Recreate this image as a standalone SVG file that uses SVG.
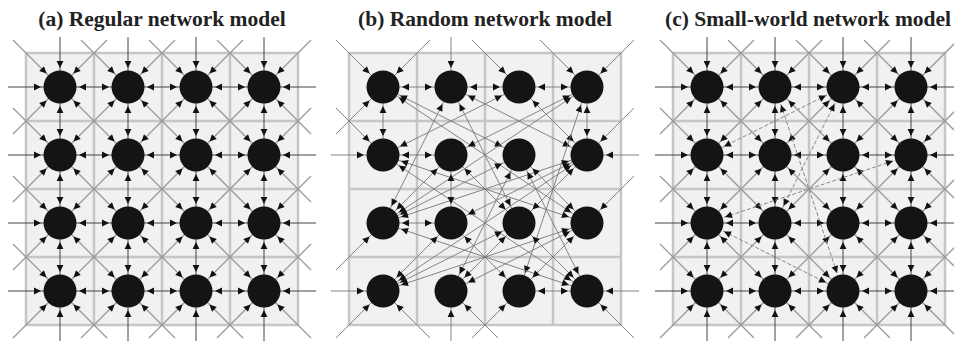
<svg xmlns="http://www.w3.org/2000/svg" xmlns:xlink="http://www.w3.org/1999/xlink" width="954" height="341" viewBox="0 0 954 341">
<style>
.title{font-family:"Liberation Serif","Times New Roman",serif;font-weight:bold;font-size:21.5px;fill:#222;text-anchor:middle}
.bg{fill:#f1f1f1;stroke:#c6c6c6;stroke-width:2.5}
.grid{stroke:#c6c6c6;stroke-width:2.5;fill:none}
.hv{stroke:#444;stroke-width:1}
.dg{stroke:#999;stroke-width:1.3}
.rn{stroke:#777;stroke-width:0.9}
.rw{stroke:#888;stroke-width:1;stroke-dasharray:4 2}
.b{marker-start:url(#ah);marker-end:url(#ah)}
.s{marker-end:url(#ah)}
.node{fill:#141414}
</style>
<defs>
<marker id="ah" markerUnits="userSpaceOnUse" markerWidth="30" markerHeight="10" refX="28" refY="5" orient="auto-start-reverse">
<path d="M9,5 L2,1.6 L2,8.4 Z" fill="#111"/>
</marker>
<g id="lattice">
<g class="dg">
<line class="b" x1="60" y1="87" x2="128" y2="155"/><line class="b" x1="128" y1="87" x2="196" y2="155"/><line class="b" x1="196" y1="87" x2="264" y2="155"/>
<line class="b" x1="60" y1="155" x2="128" y2="223"/><line class="b" x1="128" y1="155" x2="196" y2="223"/><line class="b" x1="196" y1="155" x2="264" y2="223"/>
<line class="b" x1="60" y1="223" x2="128" y2="291"/><line class="b" x1="128" y1="223" x2="196" y2="291"/><line class="b" x1="196" y1="223" x2="264" y2="291"/>
<line class="b" x1="128" y1="87" x2="60" y2="155"/><line class="b" x1="196" y1="87" x2="128" y2="155"/><line class="b" x1="264" y1="87" x2="196" y2="155"/>
<line class="b" x1="128" y1="155" x2="60" y2="223"/><line class="b" x1="196" y1="155" x2="128" y2="223"/><line class="b" x1="264" y1="155" x2="196" y2="223"/>
<line class="b" x1="128" y1="223" x2="60" y2="291"/><line class="b" x1="196" y1="223" x2="128" y2="291"/><line class="b" x1="264" y1="223" x2="196" y2="291"/>
<line class="s" x1="13" y1="40" x2="60" y2="87"/><line class="s" x1="107" y1="40" x2="60" y2="87"/><line class="s" x1="13" y1="134" x2="60" y2="87"/>
<line class="s" x1="81" y1="40" x2="128" y2="87"/><line class="s" x1="175" y1="40" x2="128" y2="87"/>
<line class="s" x1="149" y1="40" x2="196" y2="87"/><line class="s" x1="243" y1="40" x2="196" y2="87"/>
<line class="s" x1="217" y1="40" x2="264" y2="87"/><line class="s" x1="311" y1="40" x2="264" y2="87"/><line class="s" x1="311" y1="134" x2="264" y2="87"/>
<line class="s" x1="13" y1="108" x2="60" y2="155"/><line class="s" x1="13" y1="202" x2="60" y2="155"/>
<line class="s" x1="311" y1="108" x2="264" y2="155"/><line class="s" x1="311" y1="202" x2="264" y2="155"/>
<line class="s" x1="13" y1="176" x2="60" y2="223"/><line class="s" x1="13" y1="270" x2="60" y2="223"/>
<line class="s" x1="311" y1="176" x2="264" y2="223"/><line class="s" x1="311" y1="270" x2="264" y2="223"/>
<line class="s" x1="13" y1="244" x2="60" y2="291"/><line class="s" x1="13" y1="338" x2="60" y2="291"/><line class="s" x1="107" y1="338" x2="60" y2="291"/>
<line class="s" x1="81" y1="338" x2="128" y2="291"/><line class="s" x1="175" y1="338" x2="128" y2="291"/>
<line class="s" x1="149" y1="338" x2="196" y2="291"/><line class="s" x1="243" y1="338" x2="196" y2="291"/>
<line class="s" x1="311" y1="244" x2="264" y2="291"/><line class="s" x1="311" y1="338" x2="264" y2="291"/><line class="s" x1="217" y1="338" x2="264" y2="291"/>
</g>
<g class="hv">
<line class="s" x1="8" y1="87" x2="60" y2="87"/><line class="b" x1="60" y1="87" x2="128" y2="87"/><line class="b" x1="128" y1="87" x2="196" y2="87"/><line class="b" x1="196" y1="87" x2="264" y2="87"/><line class="s" x1="316" y1="87" x2="264" y2="87"/>
<line class="s" x1="8" y1="155" x2="60" y2="155"/><line class="b" x1="60" y1="155" x2="128" y2="155"/><line class="b" x1="128" y1="155" x2="196" y2="155"/><line class="b" x1="196" y1="155" x2="264" y2="155"/><line class="s" x1="316" y1="155" x2="264" y2="155"/>
<line class="s" x1="8" y1="223" x2="60" y2="223"/><line class="b" x1="60" y1="223" x2="128" y2="223"/><line class="b" x1="128" y1="223" x2="196" y2="223"/><line class="b" x1="196" y1="223" x2="264" y2="223"/><line class="s" x1="316" y1="223" x2="264" y2="223"/>
<line class="s" x1="8" y1="291" x2="60" y2="291"/><line class="b" x1="60" y1="291" x2="128" y2="291"/><line class="b" x1="128" y1="291" x2="196" y2="291"/><line class="b" x1="196" y1="291" x2="264" y2="291"/><line class="s" x1="316" y1="291" x2="264" y2="291"/>
<line class="s" x1="60" y1="37" x2="60" y2="87"/><line class="b" x1="60" y1="87" x2="60" y2="155"/><line class="b" x1="60" y1="155" x2="60" y2="223"/><line class="b" x1="60" y1="223" x2="60" y2="291"/><line class="s" x1="60" y1="343" x2="60" y2="291"/>
<line class="s" x1="128" y1="37" x2="128" y2="87"/><line class="b" x1="128" y1="87" x2="128" y2="155"/><line class="b" x1="128" y1="155" x2="128" y2="223"/><line class="b" x1="128" y1="223" x2="128" y2="291"/><line class="s" x1="128" y1="343" x2="128" y2="291"/>
<line class="s" x1="196" y1="37" x2="196" y2="87"/><line class="b" x1="196" y1="87" x2="196" y2="155"/><line class="b" x1="196" y1="155" x2="196" y2="223"/><line class="b" x1="196" y1="223" x2="196" y2="291"/><line class="s" x1="196" y1="343" x2="196" y2="291"/>
<line class="s" x1="264" y1="37" x2="264" y2="87"/><line class="b" x1="264" y1="87" x2="264" y2="155"/><line class="b" x1="264" y1="155" x2="264" y2="223"/><line class="b" x1="264" y1="223" x2="264" y2="291"/><line class="s" x1="264" y1="343" x2="264" y2="291"/>
</g>
</g>
<path id="gridlines" class="grid" d="M94,53V325M162,53V325M230,53V325M26,121H298M26,189H298M26,257H298"/>
</defs>

<g id="titles">
<text class="title" x="162" y="26">(a) Regular network model</text>
<text class="title" x="485" y="26">(b) Random network model</text>
<text class="title" x="808" y="26">(c) Small-world network model</text>
</g>

<g id="grids">
<rect class="bg" x="26" y="53" width="272" height="272"/>
<use xlink:href="#gridlines"/>
<rect class="bg" x="349" y="53" width="272" height="272"/>
<use xlink:href="#gridlines" transform="translate(323,0)"/>
<rect class="bg" x="673" y="53" width="272" height="272"/>
<use xlink:href="#gridlines" transform="translate(647,0)"/>
</g>

<g id="connectors">
<g id="edges-a"><use xlink:href="#lattice"/></g>
<g id="edges-b" class="rn">
<line class="b" x1="383" y1="87" x2="451" y2="87"/>
<line class="b" x1="451" y1="87" x2="519" y2="87"/>
<line class="b" x1="519" y1="87" x2="587" y2="87"/>
<line class="b" x1="383" y1="87" x2="383" y2="155"/>
<line class="b" x1="383" y1="87" x2="519" y2="155"/>
<line class="b" x1="383" y1="87" x2="587" y2="223"/>
<line class="b" x1="451" y1="87" x2="383" y2="223"/>
<line class="b" x1="451" y1="87" x2="519" y2="223"/>
<line class="b" x1="451" y1="87" x2="587" y2="155"/>
<line class="b" x1="519" y1="87" x2="383" y2="155"/>
<line class="b" x1="519" y1="87" x2="587" y2="155"/>
<line class="b" x1="383" y1="155" x2="587" y2="291"/>
<line class="b" x1="587" y1="87" x2="451" y2="155"/>
<line class="b" x1="587" y1="87" x2="383" y2="223"/>
<line class="b" x1="587" y1="87" x2="587" y2="155"/>
<line class="b" x1="587" y1="87" x2="519" y2="291"/>
<line class="b" x1="383" y1="223" x2="587" y2="155"/>
<line class="b" x1="383" y1="155" x2="451" y2="155"/>
<line class="b" x1="383" y1="155" x2="587" y2="223"/>
<line class="b" x1="451" y1="155" x2="519" y2="223"/>
<line class="b" x1="383" y1="291" x2="587" y2="223"/>
<line class="b" x1="451" y1="155" x2="451" y2="223"/>
<line class="b" x1="451" y1="155" x2="383" y2="223"/>
<line class="b" x1="519" y1="155" x2="383" y2="223"/>
<line class="b" x1="519" y1="155" x2="451" y2="291"/>
<line class="b" x1="519" y1="155" x2="587" y2="291"/>
<line class="b" x1="519" y1="155" x2="587" y2="223"/>
<line class="b" x1="587" y1="155" x2="383" y2="291"/>
<line class="b" x1="587" y1="155" x2="519" y2="223"/>
<line class="b" x1="587" y1="155" x2="451" y2="223"/>
<line class="b" x1="383" y1="223" x2="451" y2="223"/>
<line class="b" x1="383" y1="223" x2="587" y2="291"/>
<line class="b" x1="451" y1="223" x2="519" y2="291"/>
<line class="b" x1="451" y1="223" x2="383" y2="291"/>
<line class="b" x1="519" y1="223" x2="383" y2="291"/>
<line class="b" x1="519" y1="223" x2="451" y2="291"/>
<line class="b" x1="519" y1="223" x2="587" y2="291"/>
<line class="b" x1="587" y1="223" x2="519" y2="291"/>
<line class="b" x1="587" y1="223" x2="451" y2="291"/>
<line class="b" x1="519" y1="291" x2="587" y2="291"/>
<line class="s" x1="336" y1="40" x2="383" y2="87"/>
<line class="s" x1="430" y1="40" x2="383" y2="87"/>
<line class="s" x1="336" y1="134" x2="383" y2="87"/>
<line class="s" x1="451" y1="37" x2="451" y2="87"/>
<line class="s" x1="472" y1="40" x2="519" y2="87"/>
<line class="s" x1="540" y1="40" x2="587" y2="87"/>
<line class="s" x1="634" y1="40" x2="587" y2="87"/>
<line class="s" x1="336" y1="108" x2="383" y2="155"/>
<line class="s" x1="331" y1="155" x2="383" y2="155"/>
<line class="s" x1="634" y1="108" x2="587" y2="155"/>
<line class="s" x1="639" y1="155" x2="587" y2="155"/>
<line class="s" x1="336" y1="270" x2="383" y2="223"/>
<line class="s" x1="634" y1="176" x2="587" y2="223"/>
<line class="s" x1="331" y1="291" x2="383" y2="291"/>
<line class="s" x1="336" y1="338" x2="383" y2="291"/>
<line class="s" x1="430" y1="338" x2="383" y2="291"/>
<line class="s" x1="451" y1="343" x2="451" y2="291"/>
<line class="s" x1="498" y1="338" x2="451" y2="291"/>
<line class="s" x1="472" y1="338" x2="519" y2="291"/>
<line class="s" x1="639" y1="291" x2="587" y2="291"/>
<line class="s" x1="634" y1="338" x2="587" y2="291"/>
</g>
<g id="edges-c">
<use xlink:href="#lattice" transform="translate(647,0)"/>
<g class="rw">
<line class="b" x1="843" y1="87" x2="707" y2="155"/>
<line class="b" x1="843" y1="87" x2="775" y2="223"/>
<line class="b" x1="775" y1="87" x2="843" y2="291"/>
<line class="b" x1="707" y1="223" x2="911" y2="155"/>
<line class="b" x1="707" y1="223" x2="843" y2="291"/>
</g>
</g>
</g>

<g id="nodes-a" class="node">
<g id="a-n00"><circle cx="60" cy="87" r="16.5"/></g>
<g id="a-n01"><circle cx="128" cy="87" r="16.5"/></g>
<g id="a-n02"><circle cx="196" cy="87" r="16.5"/></g>
<g id="a-n03"><circle cx="264" cy="87" r="16.5"/></g>
<g id="a-n10"><circle cx="60" cy="155" r="16.5"/></g>
<g id="a-n11"><circle cx="128" cy="155" r="16.5"/></g>
<g id="a-n12"><circle cx="196" cy="155" r="16.5"/></g>
<g id="a-n13"><circle cx="264" cy="155" r="16.5"/></g>
<g id="a-n20"><circle cx="60" cy="223" r="16.5"/></g>
<g id="a-n21"><circle cx="128" cy="223" r="16.5"/></g>
<g id="a-n22"><circle cx="196" cy="223" r="16.5"/></g>
<g id="a-n23"><circle cx="264" cy="223" r="16.5"/></g>
<g id="a-n30"><circle cx="60" cy="291" r="16.5"/></g>
<g id="a-n31"><circle cx="128" cy="291" r="16.5"/></g>
<g id="a-n32"><circle cx="196" cy="291" r="16.5"/></g>
<g id="a-n33"><circle cx="264" cy="291" r="16.5"/></g>
</g>
<g id="nodes-b" class="node">
<g id="b-n00"><circle cx="383" cy="87" r="16.5"/></g>
<g id="b-n01"><circle cx="451" cy="87" r="16.5"/></g>
<g id="b-n02"><circle cx="519" cy="87" r="16.5"/></g>
<g id="b-n03"><circle cx="587" cy="87" r="16.5"/></g>
<g id="b-n10"><circle cx="383" cy="155" r="16.5"/></g>
<g id="b-n11"><circle cx="451" cy="155" r="16.5"/></g>
<g id="b-n12"><circle cx="519" cy="155" r="16.5"/></g>
<g id="b-n13"><circle cx="587" cy="155" r="16.5"/></g>
<g id="b-n20"><circle cx="383" cy="223" r="16.5"/></g>
<g id="b-n21"><circle cx="451" cy="223" r="16.5"/></g>
<g id="b-n22"><circle cx="519" cy="223" r="16.5"/></g>
<g id="b-n23"><circle cx="587" cy="223" r="16.5"/></g>
<g id="b-n30"><circle cx="383" cy="291" r="16.5"/></g>
<g id="b-n31"><circle cx="451" cy="291" r="16.5"/></g>
<g id="b-n32"><circle cx="519" cy="291" r="16.5"/></g>
<g id="b-n33"><circle cx="587" cy="291" r="16.5"/></g>
</g>
<g id="nodes-c" class="node">
<g id="c-n00"><circle cx="707" cy="87" r="16.5"/></g>
<g id="c-n01"><circle cx="775" cy="87" r="16.5"/></g>
<g id="c-n02"><circle cx="843" cy="87" r="16.5"/></g>
<g id="c-n03"><circle cx="911" cy="87" r="16.5"/></g>
<g id="c-n10"><circle cx="707" cy="155" r="16.5"/></g>
<g id="c-n11"><circle cx="775" cy="155" r="16.5"/></g>
<g id="c-n12"><circle cx="843" cy="155" r="16.5"/></g>
<g id="c-n13"><circle cx="911" cy="155" r="16.5"/></g>
<g id="c-n20"><circle cx="707" cy="223" r="16.5"/></g>
<g id="c-n21"><circle cx="775" cy="223" r="16.5"/></g>
<g id="c-n22"><circle cx="843" cy="223" r="16.5"/></g>
<g id="c-n23"><circle cx="911" cy="223" r="16.5"/></g>
<g id="c-n30"><circle cx="707" cy="291" r="16.5"/></g>
<g id="c-n31"><circle cx="775" cy="291" r="16.5"/></g>
<g id="c-n32"><circle cx="843" cy="291" r="16.5"/></g>
<g id="c-n33"><circle cx="911" cy="291" r="16.5"/></g>
</g>
</svg>
